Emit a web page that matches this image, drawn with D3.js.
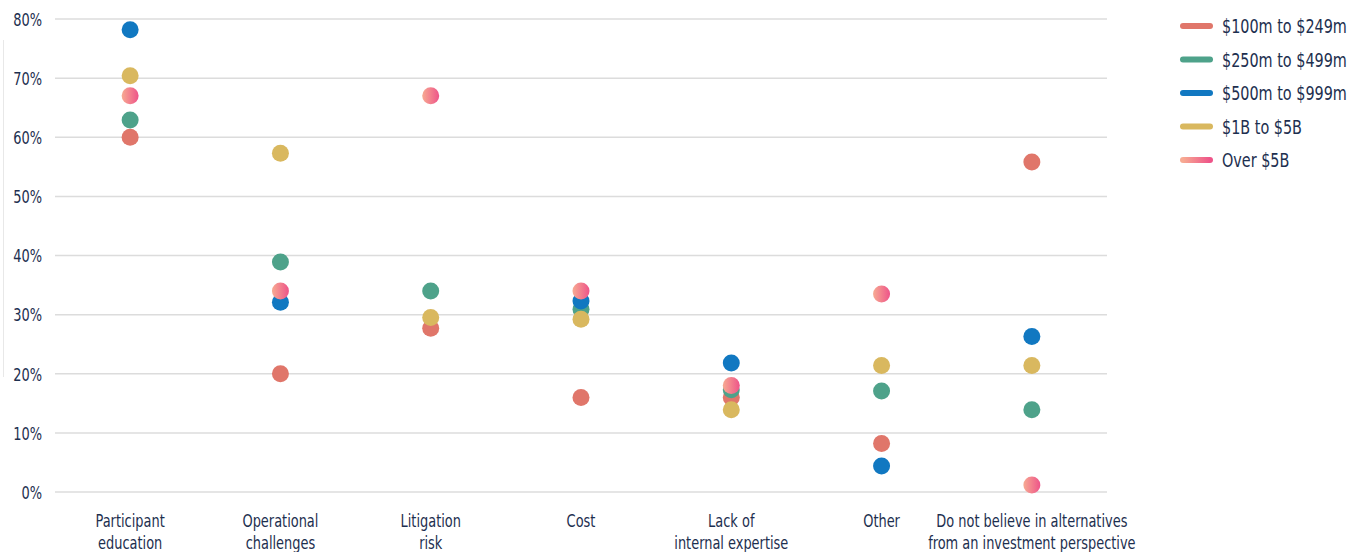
<!DOCTYPE html>
<html>
<head>
<meta charset="utf-8">
<script src="https://cdn.jsdelivr.net/npm/d3@7"></script>
<style>
  html, body { margin: 0; padding: 0; background: #fff; }
  svg text { font-family: "DejaVu Sans Condensed", "DejaVu Sans", sans-serif; font-stretch: condensed; fill: #1d2f4f; }
</style>
</head>
<body>
<svg id="chart" width="1361" height="552"></svg>
<script>
// Barriers to offering alternatives, by plan size (share of respondents)
const categories = [
  ["Participant", "education"],
  ["Operational", "challenges"],
  ["Litigation", "risk"],
  ["Cost"],
  ["Lack of", "internal expertise"],
  ["Other"],
  ["Do not believe in alternatives", "from an investment perspective"]
];
const seriesNames = ["$100m to $249m", "$250m to $499m", "$500m to $999m", "$1B to $5B", "Over $5B"];
const s100to249 = [60, 20, 27.7, 16, 16, 8.2, 55.8];
const s250to499 = [62.9, 38.9, 34, 30.9, 17.3, 17.1, 13.9];
const s500to999 = [78.2, 32.1, null, 32.3, 21.8, 4.4, 26.3];
const s1Bto5B   = [70.4, 57.3, 29.5, 29.2, 13.9, 21.4, 21.4];
const sOver5B   = [67, 34, 67, 34, 18, 33.5, 1.2];
const yTicks = [0, 10, 20, 30, 40, 50, 60, 70, 80];

const seriesValues = [s100to249, s250to499, s500to999, s1Bto5B, sOver5B];
const colors = ["#e0766a", "#4ea28a", "#1178c1", "#d9b85f", "url(#pinkGrad)"];

// narrow type: horizontal squeeze applied around each label's anchor point
const squeeze = 0.8;

const svg = d3.select("#chart");
const defs = svg.append("defs");
const grad = defs.append("linearGradient").attr("id", "pinkGrad")
  .attr("x1", "0%").attr("x2", "100%").attr("y1", "0%").attr("y2", "0%");
grad.append("stop").attr("offset", "0%").attr("stop-color", "#f7aa92");
grad.append("stop").attr("offset", "100%").attr("stop-color", "#ee5489");
const lgrad = defs.append("linearGradient").attr("id", "legGrad")
  .attr("gradientUnits", "userSpaceOnUse")
  .attr("x1", 0).attr("x2", 27).attr("y1", 0).attr("y2", 0);
lgrad.append("stop").attr("offset", "0%").attr("stop-color", "#f7aa92");
lgrad.append("stop").attr("offset", "100%").attr("stop-color", "#ee5489");

const plotLeft = 55, plotRight = 1107, plotTop = 19, plotBottom = 492;

const x = d3.scalePoint()
  .domain(d3.range(categories.length))
  .range([plotLeft, plotRight])
  .padding(0.5);

const y = d3.scaleLinear().domain([0, 80]).range([plotBottom, plotTop]);

// faint rule at the far left edge
svg.append("line").attr("x1", 3.5).attr("x2", 3.5).attr("y1", 40).attr("y2", 377)
  .attr("stroke", "#e8e8e8").attr("stroke-width", 1);

// gridlines
svg.append("g").selectAll("line").data(yTicks).join("line")
  .attr("x1", plotLeft).attr("x2", plotRight)
  .attr("y1", d => y(d)).attr("y2", d => y(d))
  .attr("stroke", "#dcdcdc").attr("stroke-width", 1.5);

// y axis labels
const yAxis = d3.axisLeft(y).tickValues(yTicks).tickFormat(d => d + "%").tickSize(0).tickPadding(0);
const yg = svg.append("g").attr("transform", `translate(42,0)`).call(yAxis);
yg.select(".domain").remove();
yg.selectAll(".tick text")
  .attr("x", 0)
  .attr("transform", `scale(${squeeze},1)`)
  .attr("font-size", 18).attr("dy", "0.35em")
  .style("font-family", '"DejaVu Sans Condensed", "DejaVu Sans", sans-serif')
  .attr("fill", "#1d2f4f");

// category labels
const xg = svg.append("g");
categories.forEach((lines, i) => {
  const t = xg.append("text").attr("text-anchor", "middle").attr("font-size", 18)
    .attr("transform", `translate(${x(i)},527) scale(${squeeze},1)`);
  lines.forEach((l, k) => {
    t.append("tspan").attr("x", 0).attr("dy", k === 0 ? 0 : 22).text(l);
  });
});

// dots (series drawn in legend order; missing values are skipped)
seriesValues.forEach((vals, si) => {
  const pts = vals.map((v, i) => ({ i, v })).filter(d => d.v != null);
  svg.append("g").selectAll("circle").data(pts).join("circle")
    .attr("cx", d => x(d.i))
    .attr("cy", d => y(d.v))
    .attr("r", 8.5)
    .attr("fill", colors[si]);
});

// legend
const lg = svg.append("g").attr("transform", "translate(1183,26)");
seriesNames.forEach((name, i) => {
  const g = lg.append("g").attr("transform", `translate(0,${i * 33.5})`);
  g.append("line").attr("x1", 0).attr("x2", 27).attr("y1", 0).attr("y2", 0)
    .attr("stroke", i === 4 ? "url(#legGrad)" : colors[i])
    .attr("stroke-width", 6).attr("stroke-linecap", "round");
  g.append("text").attr("transform", `translate(39,0) scale(${squeeze},1)`)
    .attr("dy", "0.35em").attr("font-size", 20).text(name);
});
</script>
</body>
</html>
